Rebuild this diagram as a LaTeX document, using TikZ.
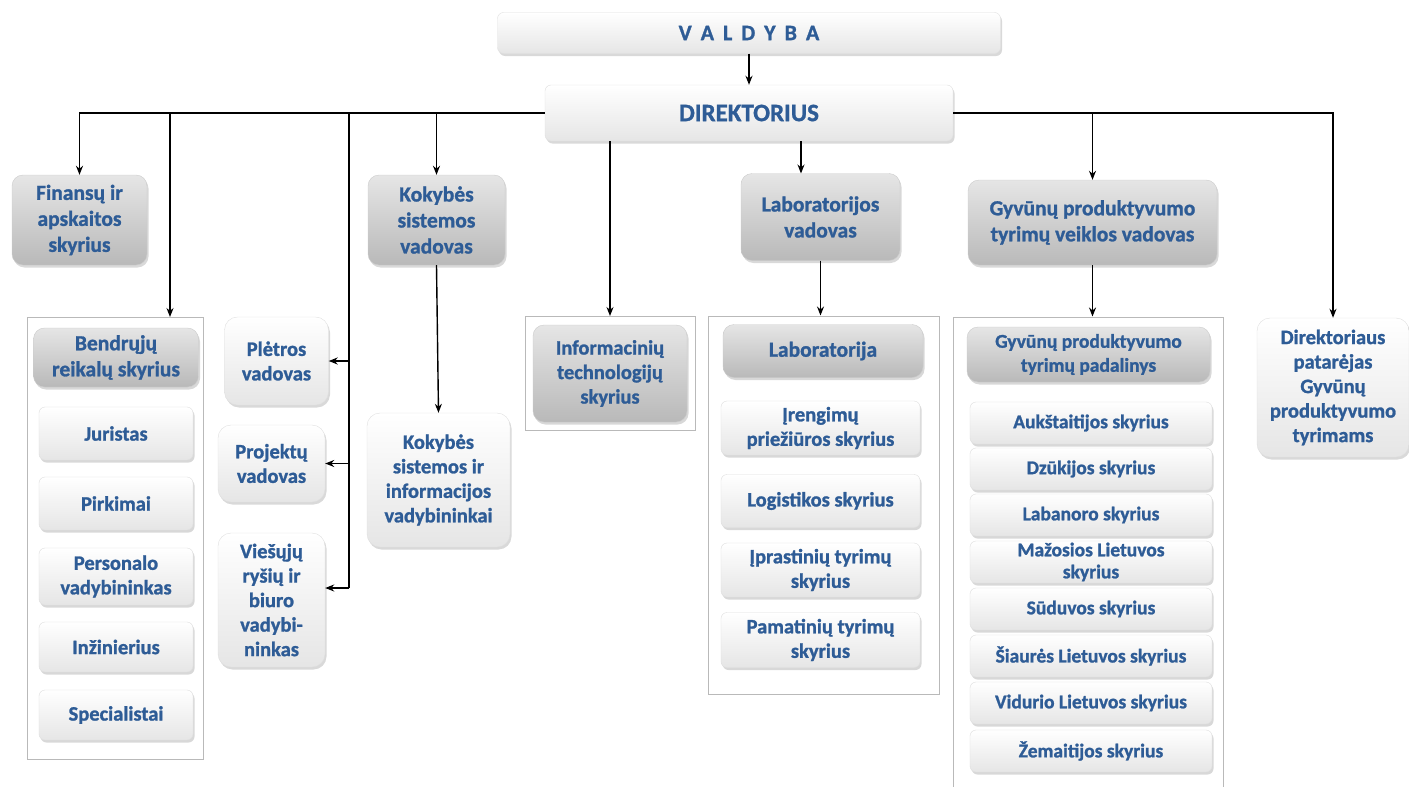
\documentclass[tikz,border=0pt]{standalone}
\usepackage{fontspec}
\setmainfont{Carlito}[BoldFeatures={FakeBold=1.2}]
\usetikzlibrary{arrows.meta,shadows}
\definecolor{orgblue}{RGB}{46,92,150}
\tikzset{
  box/.style={rounded corners=6pt, align=center, text=orgblue, inner sep=0pt,
    font=\bfseries\fontsize{20.5}{24.5}\selectfont,
    drop shadow={opacity=0.3, shadow xshift=1.5pt, shadow yshift=-2.5pt}},
  lightbox/.style={box, top color=white, bottom color=gray!20, draw=gray!25},
  softbox/.style={lightbox, rounded corners=13pt},
  darkbox/.style={box, rounded corners=11pt, top color=gray!20, bottom color=gray!55,
    draw=gray!40, font=\bfseries\fontsize{21.5}{26}\selectfont},
  grpbox/.style={draw=gray!55, line width=1pt, fill=white, inner sep=0pt},
  arr/.style={-{Stealth[length=9pt,width=7pt]}, line width=1.4pt},
  bus/.style={line width=1.4pt}
}
\begin{document}
\begin{tikzpicture}[x=1pt,y=-1pt]
  \useasboundingbox (0,0) rectangle (1409,787);
  %%%%% TOP %%%%%
  \node[lightbox, minimum width=503pt, minimum height=41pt,
        font=\bfseries\fontsize{22}{24}\selectfont] (val) at (749,33)
        {{\spaceskip=9pt V A L D Y B A}};
  \node[lightbox, minimum width=408pt, minimum height=56pt,
        font=\bfseries\fontsize{25}{28}\selectfont] (dir) at (749,113) {DIREKTORIUS};
  \draw[arr] (val.south) -- (dir.north);

  %%%%% LEFT %%%%%
  \node[darkbox, minimum width=135pt, minimum height=90pt] (fin) at (79.5,220)
        {Finansų ir\\apskaitos\\skyrius};
  \node[grpbox, minimum width=176pt, minimum height=442pt] (grpA) at (115,538) {};
  \coordinate (grpAin) at (170,317);
  \node[darkbox, minimum width=165pt, minimum height=59pt] (bnd) at (116,357.5)
        {Bendrųjų\\reikalų skyrius};
  \node[lightbox, minimum width=154pt, minimum height=53pt] (jur) at (116,433.5) {Juristas};
  \node[lightbox, minimum width=154pt, minimum height=53pt] (pir) at (116,503.5) {Pirkimai};
  \node[lightbox, minimum width=154pt, minimum height=57pt] (per) at (116,576.5)
        {Personalo\\vadybininkas};
  \node[lightbox, minimum width=154pt, minimum height=50pt] (inz) at (116,647) {Inžinierius};
  \node[lightbox, minimum width=154pt, minimum height=50pt] (spe) at (116,715) {Specialistai};

  \node[softbox, minimum width=104pt, minimum height=88pt] (ple) at (276.5,361)
        {Plėtros\\vadovas};
  \node[softbox, minimum width=107pt, minimum height=77pt] (prj) at (271.5,463.5)
        {Projektų\\vadovas};
  \node[softbox, minimum width=107pt, minimum height=134pt] (vie) at (271.5,600)
        {Viešųjų\\ryšių ir\\biuro\\vadybi-\\ninkas};
  \coordinate (vbus) at (349,588);

  %%%%% MIDDLE %%%%%
  \node[darkbox, minimum width=137pt, minimum height=90pt] (kv) at (436.5,220)
        {Kokybės\\sistemos\\vadovas};
  \node[softbox, minimum width=143pt, minimum height=134pt] (kvad) at (438.5,480)
        {Kokybės\\sistemos ir\\informacijos\\vadybininkai};
  \node[grpbox, minimum width=170pt, minimum height=114pt] (itg) at (610,373.5) {};
  \node[darkbox, minimum width=154pt, minimum height=97pt,
        font=\bfseries\fontsize{20.5}{24.5}\selectfont] (it) at (610,373.5)
        {Informacinių\\technologijų\\skyrius};

  \node[darkbox, minimum width=159pt, minimum height=87pt] (labv) at (820.5,217)
        {Laboratorijos\\vadovas};
  \coordinate (labin) at (801,173.5);
  \node[grpbox, minimum width=231pt, minimum height=378pt] (labg) at (823.5,505) {};
  \node[darkbox, minimum width=200pt, minimum height=53pt] (lab) at (823,351) {Laboratorija};
  \node[lightbox, minimum width=199pt, minimum height=54pt] (ire) at (820.5,428)
        {Įrengimų\\priežiūros skyrius};
  \node[lightbox, minimum width=199pt, minimum height=53pt] (log) at (820.5,501) {Logistikos skyrius};
  \node[lightbox, minimum width=199pt, minimum height=54pt] (ipr) at (820.5,570)
        {Įprastinių tyrimų\\skyrius};
  \node[lightbox, minimum width=199pt, minimum height=55pt] (pam) at (820.5,640)
        {Pamatinių tyrimų\\skyrius};

  %%%%% RIGHT %%%%%
  \node[darkbox, minimum width=249pt, minimum height=85pt] (gvv) at (1092.5,222.5)
        {Gyvūnų produktyvumo\\tyrimų veiklos vadovas};
  \node[grpbox, minimum width=270pt, minimum height=490pt] (gvg) at (1088,562) {};
  \node[darkbox, minimum width=243pt, minimum height=55pt,
        font=\bfseries\fontsize{19.5}{24}\selectfont] (pad) at (1088.5,354.5)
        {Gyvūnų produktyvumo\\tyrimų padalinys};
  \foreach \y/\nm/\txt in {423/auk/Aukštaitijos skyrius, 469/dzu/Dzūkijos skyrius,
      515/lab/Labanoro skyrius, 562/maz/{Mažosios Lietuvos\\skyrius},
      609/sud/Sūduvos skyrius, 656/sia/Šiaurės Lietuvos skyrius,
      703/vid/Vidurio Lietuvos skyrius, 751/zem/Žemaitijos skyrius}
    \node[lightbox, minimum width=242pt, minimum height=42pt,
          font=\bfseries\fontsize{19.5}{22}\selectfont] (\nm) at (1091,\y) {\txt};

  \node[softbox, minimum width=152pt, minimum height=139pt] (pat) at (1333,387.5)
        {Direktoriaus\\patarėjas\\Gyvūnų\\produktyvumo\\tyrimams};

  %%%%% CONNECTORS %%%%%
  \draw[arr] (dir.west) -| (fin.north);
  \draw[arr] (dir.west) -| (grpAin);
  \draw[bus] (dir.west) -| (vbus);
  \draw[arr] (vbus |- ple.east) -- (ple.east);
  \draw[arr] (vbus |- prj.east) -- (prj.east);
  \draw[arr] (vbus) -- (vie.east |- vbus);
  \draw[arr] (dir.west) -| (kv.north);
  \draw[arr] (kv.south) -- (kvad.north);
  \draw[arr] (dir.south -| itg.north) -- (itg.north);
  \draw[arr] (dir.south -| labin) -- (labin);
  \draw[arr] (labv.south) -- (labv.south |- labg.north);
  \draw[arr] (dir.east) -| (gvv.north);
  \draw[arr] (gvv.south) -- (gvv.south |- gvg.north);
  \draw[arr] (dir.east) -| (pat.north);
\end{tikzpicture}
\end{document}
